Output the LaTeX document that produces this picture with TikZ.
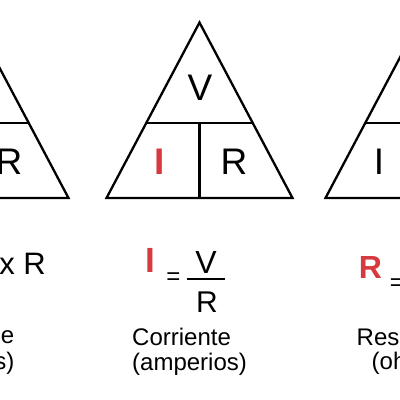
\documentclass[tikz,border=0pt]{standalone}
\usepackage{fontspec}
\setmainfont{Liberation Sans}
\definecolor{ohmred}{HTML}{D63A3F}

\begin{document}
\begin{tikzpicture}[
  x=1pt, y=-1pt,
  edge/.style={line width=2.3pt, draw=black, line join=miter},
  letter/.style={inner sep=0pt, font=\fontsize{37}{37}\selectfont},
  redletter/.style={letter, text=ohmred, font=\fontsize{37}{37}\selectfont\bfseries},
  formula/.style={inner sep=0pt, font=\fontsize{31}{31}\selectfont},
  small/.style={inner sep=0pt, font=\fontsize{24}{24}\selectfont},
  caption/.style={inner sep=0pt, font=\fontsize{24}{24}\selectfont}
]
  \useasboundingbox (0,0) rectangle (400,400);
  \clip (0,0) rectangle (400,400);
  \fill[white] (0,0) rectangle (400,400);

  % the three triangles
  \foreach \dx/\tn in {-224/L,0/M,219/R}{
    \coordinate (\tn-top) at (199.5+\dx,22.5);
    \coordinate (\tn-bl) at (106.5+\dx,198);
    \coordinate (\tn-br) at (292.5+\dx,198);
    \coordinate (\tn-dl) at (146.1+\dx,123.3);
    \coordinate (\tn-dr) at (252.9+\dx,123.3);
    \coordinate (\tn-dm) at (199.5+\dx,123.3);
    \coordinate (\tn-bm) at (199.5+\dx,198);
    \draw[edge] (\tn-top) -- (\tn-bl) -- (\tn-br) -- cycle;
    \draw[edge] (\tn-dl) -- (\tn-dr);
    \draw[edge] (\tn-dm) -- (\tn-bm);
  }

  % letters inside the triangles
  \node[letter] (lR) at (9,162) {R};
  \node[letter] (mV) at (200,88) {V};
  \node[redletter] (mI) at (160,162) {I};
  \node[letter] (mR) at (234,162) {R};
  \node[letter] (rI) at (379,162) {I};

  % formulas
  \node[formula, anchor=east] (lform) at (46,264) {{\color{ohmred}\bfseries V} = I x R};

  \node[formula, font=\fontsize{35}{35}\selectfont\bfseries, text=ohmred] (fI) at (150,260) {I};
  \node[small] (feq) at (173.5,279) {=};
  \node[formula, font=\fontsize{32}{32}\selectfont] (fV) at (206,262) {V};
  \node[formula, font=\fontsize{30}{30}\selectfont] (fR) at (207,302) {R};
  \coordinate (barL) at (187,279);
  \coordinate (barR) at (224.5,279);
  \draw[line width=2.2pt] (barL) -- (barR);

  \node[formula, font=\fontsize{32}{32}\selectfont\bfseries, text=ohmred] (rR) at (370.5,267.5) {R};
  \node[small] (req) at (397,285) {=};

  % captions
  \node[caption, anchor=east] (lcap1) at (14.5,337) {Voltaje};
  \node[caption, anchor=east] (lcap2) at (14.5,363) {(voltios)};
  \node[caption, anchor=west] (mcap1) at (132,337) {Corriente};
  \node[caption, anchor=west] (mcap2) at (132,364) {(amperios)};
  \node[caption, anchor=west] (rcap1) at (356.5,337) {Resistencia};
  \node[caption, anchor=west] (rcap2) at (371.5,363.5) {(ohmios)};
\end{tikzpicture}
\end{document}
